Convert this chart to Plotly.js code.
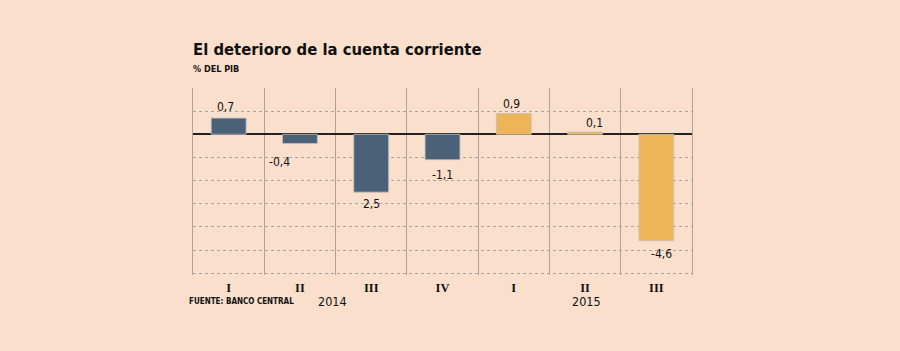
<!DOCTYPE html>
<html><head><meta charset="utf-8">
<script src="https://cdn.plot.ly/plotly-3.0.1.min.js"></script>
<style>html,body{margin:0;padding:0;background:#f9dfcc;}</style>
</head><body><div id="chart" style="width:900px;height:351px;"></div>
<script>
var quarters = ["I","II","III","IV","I","II","III"];
var years = ["2014","2015"];
var yearPositions = [1.46, 5.02];
var values = [0.7, -0.4, -2.5, -1.1, 0.9, 0.1, -4.6];
var valueLabels = ["0,7","-0,4","2,5","-1,1","0,9","0,1","-4,6"];
var barColors = ["#4a6177","#4a6177","#4a6177","#4a6177","#eeb458","#eeb458","#eeb458"];
var labelShiftX = [-3, -20, 0, 0, -2, 9, 5];
var labelShiftY = [11, -18, -12, -15, 9, 9, -13];

var idx = values.map(function(v,i){return i;});
var fontTxt = "Tahoma, 'DejaVu Sans Condensed', 'DejaVu Sans', sans-serif";

var trace = {
  type: 'bar', x: idx, y: values, width: 0.49,
  marker: {color: barColors, line: {color: 'rgba(200,195,190,0.8)', width: 1}},
  hoverinfo: 'none', showlegend: false
};

var annotations = values.map(function(v,i){
  return {x: i, y: v, xref: 'x', yref: 'y', text: valueLabels[i], showarrow: false,
    xshift: labelShiftX[i], yshift: labelShiftY[i], yanchor: 'middle',
    font: {family: fontTxt, size: 12, color: '#111'}};
});
years.forEach(function(yr, k){
  annotations.push({x: yearPositions[k], y: 0, xref: 'x', yref: 'paper', yanchor: 'middle', yshift: -26,
    text: yr, showarrow: false, font: {family: fontTxt, size: 12.5, color: '#111'}});
});
annotations.push({x: 0, xanchor: 'left', y: 0, xref: 'paper', yref: 'paper', yanchor: 'middle', yshift: -26, xshift: -6,
  text: '<b>FUENTE: BANCO CENTRAL</b>', showarrow: false,
  font: {family: "'DejaVu Sans Condensed', 'DejaVu Sans', sans-serif", size: 8, color: '#111'}});
annotations.push({x: 0, xanchor: 'left', y: 1, xref: 'paper', yref: 'paper', yanchor: 'bottom', yshift: 27, xshift: -2,
  text: '<b>El deterioro de la cuenta corriente</b>', showarrow: false,
  font: {family: "Tahoma, 'DejaVu Sans Condensed', 'DejaVu Sans', sans-serif", size: 16.5, color: '#111'}});
annotations.push({x: 0, xanchor: 'left', y: 1, xref: 'paper', yref: 'paper', yanchor: 'bottom', yshift: 12, xshift: -2,
  text: '<b>% DEL PIB</b>', showarrow: false,
  font: {family: "'DejaVu Sans Condensed', 'DejaVu Sans', sans-serif", size: 9, color: '#111'}});

var layout = {
  width: 900, height: 351,
  paper_bgcolor: '#f9dfcc', plot_bgcolor: '#f9dfcc',
  margin: {l: 193, r: 208, t: 88, b: 76},
  xaxis: {
    type: 'linear', range: [-0.5, 6.5], tickmode: 'array', tickvals: idx, ticktext: quarters,
    showgrid: false, zeroline: false, showline: false, ticks: '', ticklabelstandoff: 3,
    tickfont: {family: "'Liberation Serif', 'DejaVu Serif', serif", size: 12.5, color: '#111', weight: 'bold'},
    minor: {tickmode: 'array', tickvals: [0.5,1.5,2.5,3.5,4.5,5.5], showgrid: true, gridcolor: '#a9a4a0', gridwidth: 1, ticks: ''},
    fixedrange: true
  },
  yaxis: {
    range: [-6.08, 2], tickmode: 'array', tickvals: [1,-1,-2,-3,-4,-5,-6], showticklabels: false,
    showgrid: true, gridcolor: '#a9a4a0', griddash: 'dot', gridwidth: 1,
    zeroline: true, zerolinecolor: '#222', zerolinewidth: 1.6,
    showline: true, mirror: true, linecolor: '#a9a4a0', linewidth: 1, ticks: '', fixedrange: true
  },
  annotations: annotations,
  bargap: 0.5
};
Plotly.newPlot('chart', [trace], layout, {staticPlot: true, displayModeBar: false});
</script></body></html>
